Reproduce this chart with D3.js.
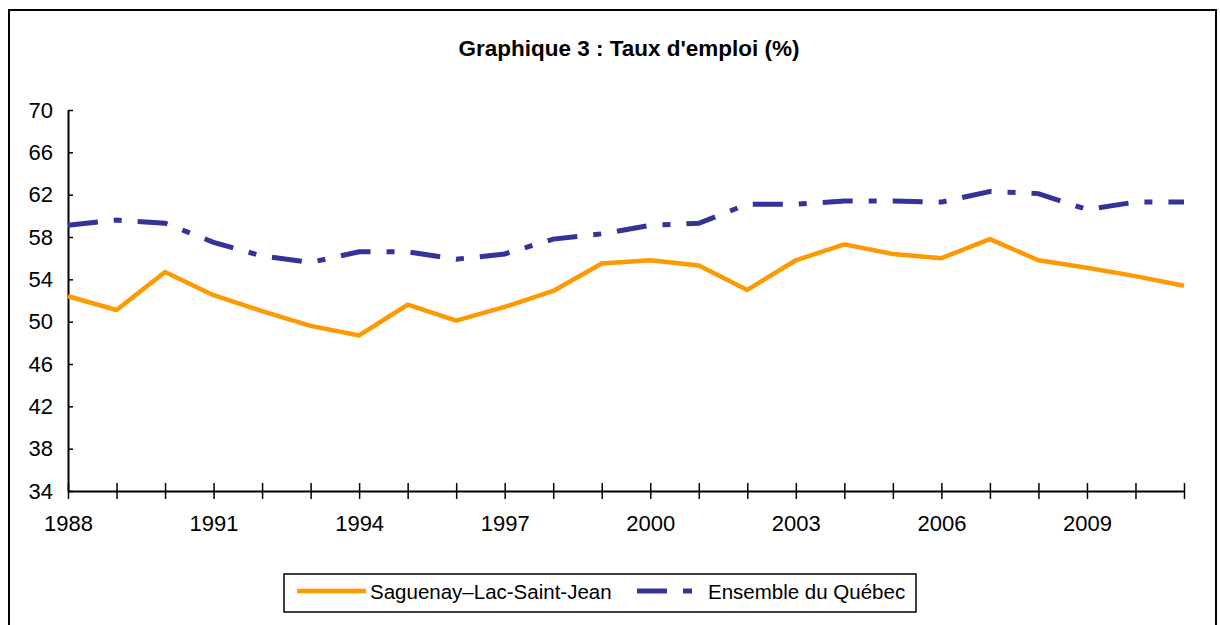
<!DOCTYPE html>
<html>
<head>
<meta charset="utf-8">
<script src="https://cdn.jsdelivr.net/npm/d3@7"></script>
<style>
  body { margin: 0; background: #fff; }
  svg { font-family: "Liberation Sans", Arial, sans-serif; }
</style>
</head>
<body>
<div id="chart"></div>
<script>
// data
var years = d3.range(1988, 2012);
var saguenay = [52.4, 51.1, 54.7, 52.5, 51.0, 49.6, 48.7, 51.6, 50.1, 51.4, 52.9, 55.5,
                55.8, 55.3, 53.0, 55.8, 57.3, 56.4, 56.0, 57.8, 55.8, 55.1, 54.3, 53.4];
var quebec = [59.1, 59.6, 59.3, 57.5, 56.2, 55.6, 56.6, 56.6, 55.9, 56.4, 57.8, 58.3,
              59.1, 59.3, 61.1, 61.1, 61.4, 61.4, 61.3, 62.3, 62.1, 60.6, 61.3, 61.3];
var yTicks = [34, 38, 42, 46, 50, 54, 58, 62, 66, 70];
var xLabels = [1988, 1991, 1994, 1997, 2000, 2003, 2006, 2009];
var seriesNames = ["Saguenay\u2013Lac-Saint-Jean", "Ensemble du Qu\u00e9bec"];

var W = 1220, H = 625;
var margin = { left: 68, right: 36, top: 110, bottom: 134 };
var width = W - margin.left - margin.right,
    height = H - margin.top - margin.bottom;

var svg = d3.select("#chart").append("svg")
    .attr("width", W)
    .attr("height", H);

// outer frame
svg.append("rect")
    .attr("x", 9).attr("y", 10)
    .attr("width", 1207).attr("height", 640)
    .attr("fill", "none")
    .attr("stroke", "#000")
    .attr("stroke-width", 2);

// title
svg.append("text")
    .attr("x", 629)
    .attr("y", 56)
    .attr("text-anchor", "middle")
    .attr("font-size", "22.5px")
    .attr("font-weight", "bold")
    .text("Graphique 3 : Taux d'emploi (%)");

var g = svg.append("g")
    .attr("transform", "translate(" + margin.left + "," + margin.top + ")");

var x = d3.scaleLinear()
    .domain([1988, 2011])
    .range([0, width]);

var y = d3.scaleLinear()
    .domain([34, 70])
    .range([height, 0]);

// Y axis
var yAxis = g.append("g")
    .call(d3.axisLeft(y).tickValues(yTicks).tickSize(8).tickSizeOuter(0).tickPadding(7));
yAxis.selectAll(".tick line").attr("x2", 5);

// X axis
var xAxis = g.append("g")
    .attr("transform", "translate(0," + height + ")")
    .call(d3.axisBottom(x).tickValues(years).tickSize(8).tickSizeOuter(0).tickPadding(16)
        .tickFormat(function(d) { return xLabels.indexOf(d) >= 0 ? d : ""; }));
xAxis.selectAll(".tick line").attr("y1", -8);

[yAxis, xAxis].forEach(function(a) {
  a.select(".domain").attr("stroke", "#000").attr("stroke-width", 2);
  a.selectAll(".tick line").attr("stroke", "#000").attr("stroke-width", 1.5);
  a.selectAll(".tick text")
      .attr("font-family", "Liberation Sans, Arial, sans-serif")
      .attr("font-size", "22px")
      .attr("fill", "#000");
});

var line = d3.line()
    .x(function(d, i) { return x(years[i]); })
    .y(function(d) { return y(d); });

g.append("path")
    .datum(quebec)
    .attr("d", line)
    .attr("fill", "none")
    .attr("stroke", "#333399")
    .attr("stroke-width", 5)
    .attr("stroke-dasharray", "30,16,8,16");

g.append("path")
    .datum(saguenay)
    .attr("d", line)
    .attr("fill", "none")
    .attr("stroke", "#FF9900")
    .attr("stroke-width", 4.5)
    .attr("stroke-linejoin", "round");

// legend
var legend = svg.append("g");
legend.append("rect")
    .attr("x", 284).attr("y", 574)
    .attr("width", 632).attr("height", 38)
    .attr("fill", "#fff")
    .attr("stroke", "#000")
    .attr("stroke-width", 1.5);

legend.append("line")
    .attr("x1", 297).attr("x2", 366)
    .attr("y1", 591).attr("y2", 591)
    .attr("stroke", "#FF9900")
    .attr("stroke-width", 4.5);
legend.append("text")
    .attr("x", 370).attr("y", 599)
    .attr("font-size", "20.5px")
    .text(seriesNames[0]);

legend.append("line")
    .attr("x1", 637).attr("x2", 667)
    .attr("y1", 591).attr("y2", 591)
    .attr("stroke", "#333399")
    .attr("stroke-width", 5);
legend.append("line")
    .attr("x1", 683).attr("x2", 692)
    .attr("y1", 591).attr("y2", 591)
    .attr("stroke", "#333399")
    .attr("stroke-width", 5);
legend.append("text")
    .attr("x", 708).attr("y", 599)
    .attr("font-size", "20.5px")
    .text(seriesNames[1]);
</script>
</body>
</html>
